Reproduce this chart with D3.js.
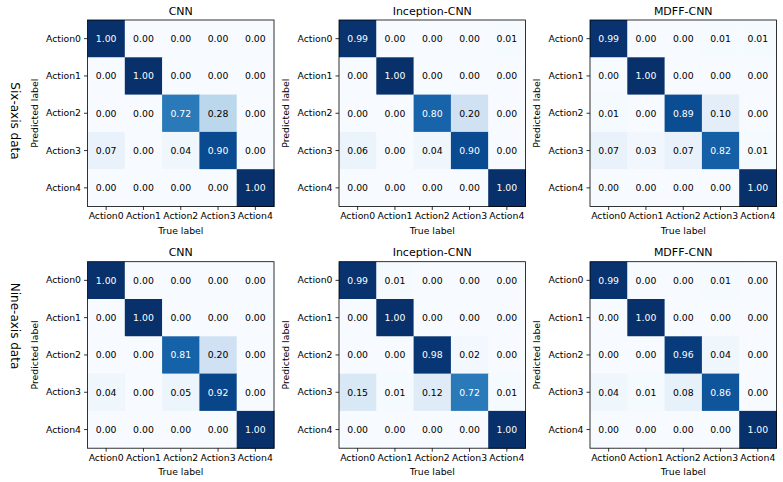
<!DOCTYPE html>
<html>
<head>
<meta charset="utf-8">
<script src="https://cdn.jsdelivr.net/npm/d3@7"></script>
<style>
  body { margin: 0; background: #fff; }
  svg, svg text { font-family: "DejaVu Sans", sans-serif; }
  .tick text { font-size: 9.3px; fill: #000; font-family: "DejaVu Sans", sans-serif; }
  .tick line { stroke: #000; stroke-width: 0.8; }
</style>
</head>
<body>
<div id="chart"></div>
<script>
const labels = ["Action0", "Action1", "Action2", "Action3", "Action4"];
const models = ["CNN", "Inception-CNN", "MDFF-CNN"];
const rowNames = ["Six-axis data", "Nine-axis data"];

// six-axis
const sixCNN = [[1.00,0.00,0.00,0.00,0.00],[0.00,1.00,0.00,0.00,0.00],[0.00,0.00,0.72,0.28,0.00],[0.07,0.00,0.04,0.90,0.00],[0.00,0.00,0.00,0.00,1.00]];
const sixInception = [[0.99,0.00,0.00,0.00,0.01],[0.00,1.00,0.00,0.00,0.00],[0.00,0.00,0.80,0.20,0.00],[0.06,0.00,0.04,0.90,0.00],[0.00,0.00,0.00,0.00,1.00]];
const sixMDFF = [[0.99,0.00,0.00,0.01,0.01],[0.00,1.00,0.00,0.00,0.00],[0.01,0.00,0.89,0.10,0.00],[0.07,0.03,0.07,0.82,0.01],[0.00,0.00,0.00,0.00,1.00]];
// nine-axis
const nineCNN = [[1.00,0.00,0.00,0.00,0.00],[0.00,1.00,0.00,0.00,0.00],[0.00,0.00,0.81,0.20,0.00],[0.04,0.00,0.05,0.92,0.00],[0.00,0.00,0.00,0.00,1.00]];
const nineInception = [[0.99,0.01,0.00,0.00,0.00],[0.00,1.00,0.00,0.00,0.00],[0.00,0.00,0.98,0.02,0.00],[0.15,0.01,0.12,0.72,0.01],[0.00,0.00,0.00,0.00,1.00]];
const nineMDFF = [[0.99,0.00,0.00,0.01,0.00],[0.00,1.00,0.00,0.00,0.00],[0.00,0.00,0.96,0.04,0.00],[0.04,0.01,0.08,0.86,0.00],[0.00,0.00,0.00,0.00,1.00]];

const matrices = [[sixCNN, sixInception, sixMDFF], [nineCNN, nineInception, nineMDFF]];

const W = 783, H = 482;
const size = 186.5;
const lefts = [87.5, 339, 590];
const tops = [20, 261.7];
const rowLabelY = [121, 326];

const svg = d3.select("#chart").append("svg")
  .attr("width", W)
  .attr("height", H);

const color = d3.scaleSequential(d3.interpolateBlues).domain([0, 1]);

const x = d3.scaleBand().domain(labels).range([0, size]);
const y = d3.scaleBand().domain(labels).range([0, size]);

matrices.forEach(function(row, r) {
  svg.append("text")
    .attr("transform", `translate(15,${rowLabelY[r]}) rotate(90)`)
    .attr("text-anchor", "middle")
    .attr("dominant-baseline", "central")
    .style("font-size", "12px")
    .text(rowNames[r]);

  row.forEach(function(m, c) {
    const g = svg.append("g")
      .attr("transform", `translate(${lefts[c]},${tops[r]})`);

    const cells = [];
    m.forEach(function(vals, i) {
      vals.forEach(function(v, j) {
        cells.push({pred: labels[i], truth: labels[j], v: v});
      });
    });

    g.selectAll("rect.cell")
      .data(cells)
      .join("rect")
      .attr("class", "cell")
      .attr("x", d => x(d.truth))
      .attr("y", d => y(d.pred))
      .attr("width", x.bandwidth() + 0.5)
      .attr("height", y.bandwidth() + 0.5)
      .attr("fill", d => color(d.v));

    g.selectAll("text.val")
      .data(cells)
      .join("text")
      .attr("class", "val")
      .attr("x", d => x(d.truth) + x.bandwidth() / 2)
      .attr("y", d => y(d.pred) + y.bandwidth() / 2)
      .attr("text-anchor", "middle")
      .attr("dominant-baseline", "central")
      .style("font-size", "9.3px")
      .attr("fill", d => d.v > 0.5 ? "#fff" : "#000")
      .text(d => d.v.toFixed(2));

    g.append("rect")
      .attr("width", size)
      .attr("height", size)
      .attr("fill", "none")
      .attr("stroke", "#000")
      .attr("stroke-width", 0.8);

    g.append("g")
      .call(d3.axisLeft(y).tickSize(3.5).tickSizeOuter(0).tickPadding(3))
      .call(a => a.select(".domain").remove());

    g.append("g")
      .attr("transform", `translate(0,${size})`)
      .call(d3.axisBottom(x).tickSize(3.5).tickSizeOuter(0).tickPadding(2.5))
      .call(a => a.select(".domain").remove());

    g.append("text")
      .attr("x", size / 2)
      .attr("y", -9)
      .attr("text-anchor", "middle")
      .attr("dominant-baseline", "central")
      .style("font-size", "11px")
      .text(models[c]);

    g.append("text")
      .attr("x", size / 2)
      .attr("y", size + 23.5)
      .attr("text-anchor", "middle")
      .attr("dominant-baseline", "central")
      .style("font-size", "9.3px")
      .text("True label");

    g.append("text")
      .attr("transform", `translate(-53.5,${size / 2}) rotate(-90)`)
      .attr("text-anchor", "middle")
      .attr("dominant-baseline", "central")
      .style("font-size", "9.3px")
      .text("Predicted label");
  });
});
</script>
</body>
</html>
